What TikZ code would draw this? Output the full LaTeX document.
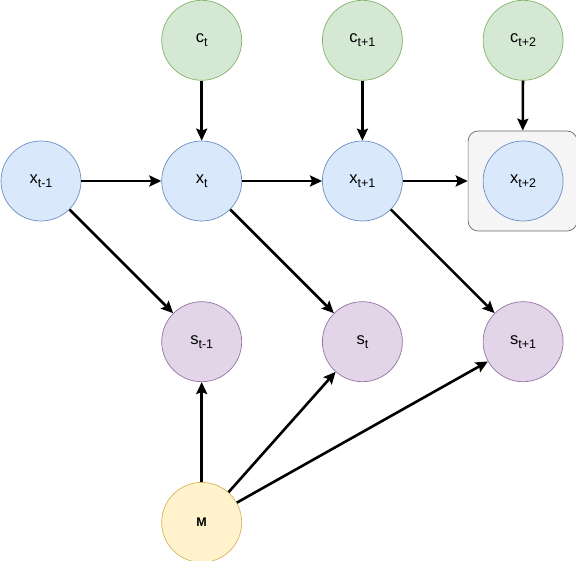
\documentclass[tikz,border=0pt]{standalone}
\usepackage{fontspec}
\setmainfont{Liberation Sans}
\usepackage{tikz}
\usetikzlibrary{positioning,arrows.meta}
\definecolor{blfill}{HTML}{DAE8FC}
\definecolor{bldraw}{HTML}{6C8EBF}
\definecolor{grfill}{HTML}{D5E8D4}
\definecolor{grdraw}{HTML}{82B366}
\definecolor{pufill}{HTML}{E1D5E7}
\definecolor{pudraw}{HTML}{9673A6}
\definecolor{yefill}{HTML}{FFF2CC}
\definecolor{yedraw}{HTML}{D6B656}
\definecolor{frfill}{HTML}{F5F5F5}
\definecolor{frdraw}{HTML}{666666}
\tikzstyle{var} = [circle,minimum size=80pt,inner sep=0pt,line width=0.7pt,font=\fontsize{16.5}{18}\selectfont]
\tikzstyle{ctx} = [var,fill=grfill,draw=grdraw]
\tikzstyle{state} = [var,fill=blfill,draw=bldraw]
\tikzstyle{obs} = [var,fill=pufill,draw=pudraw]
\tikzstyle{model} = [var,fill=yefill,draw=yedraw,font=\fontsize{12.5}{14}\selectfont\bfseries]
\tikzstyle{frame} = [rectangle,rounded corners=10pt,minimum width=109pt,minimum height=100pt,fill=frfill,draw=frdraw,line width=0.7pt]
\tikzstyle{line} = [-{Stealth[length=12pt,width=11pt,inset=2pt]},line width=2.6pt]
\newcommand{\lowidx}[1]{\raisebox{-4pt}{\fontsize{12.5}{14}\selectfont #1}}

\begin{document}
\begin{tikzpicture}[x=1pt,y=1pt]
    \useasboundingbox (0,0) rectangle (576,-561);
    % state chain
    \node[state] (xtm1) at (41,-181) {x\lowidx{t-1}};
    \node[state,right=80pt of xtm1] (xt) {x\lowidx{t}};
    \node[state,right=80pt of xt] (xt1) {x\lowidx{t+1}};
    \node[frame,right=65pt of xt1] (grp) {};
    \node[state,right=80pt of xt1] (xt2) {x\lowidx{t+2}};
    % context
    \node[ctx,above=60pt of xt] (ct) {c\lowidx{t}};
    \node[ctx,above=60pt of xt1] (ct1) {c\lowidx{t+1}};
    \node[ctx,above=60pt of xt2] (ct2) {c\lowidx{t+2}};
    % observations
    \node[obs,below=80pt of xt] (stm1) {s\lowidx{t-1}};
    \node[obs,below=80pt of xt1] (st) {s\lowidx{t}};
    \node[obs,below=80pt of xt2] (st1) {s\lowidx{t+1}};
    \node[model,below=100pt of stm1] (m) {M};
    % connectors
    \draw[line] (xtm1) -- (xt);
    \draw[line] (xt) -- (xt1);
    \draw[line] (xt1) -- (grp);
    \draw[line] (ct) -- (xt);
    \draw[line] (ct1) -- (xt1);
    \draw[line] (ct2) -- (grp);
    \draw[line] (xtm1) -- (stm1);
    \draw[line] (xt) -- (st);
    \draw[line] (xt1) -- (st1);
    \draw[line] (m) -- (stm1);
    \draw[line] (m) -- (st);
    \draw[line] (m) -- (st1);
\end{tikzpicture}
\end{document}
